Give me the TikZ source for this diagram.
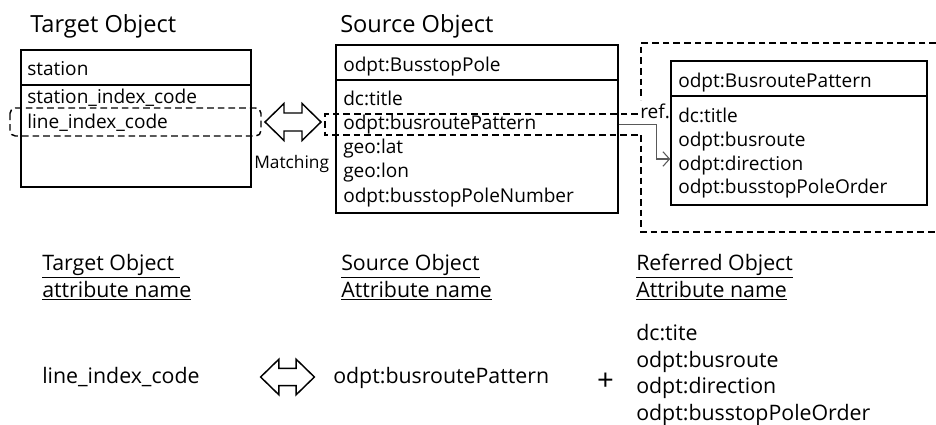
\documentclass[tikz,border=0pt]{standalone}
\usepackage{fontspec}
\setmainfont{Open Sans}
\usetikzlibrary{arrows.meta,fit}

\tikzset{
  objbox/.style={draw, line width=1.1pt, inner sep=0pt},
  title/.style={anchor=base west, inner sep=0pt, font=\fontsize{17.7}{21}\selectfont},
  attr/.style={anchor=base west, inner sep=0pt, font=\fontsize{14.3}{17}\selectfont},
  legend/.style={anchor=base west, inner sep=0pt, font=\fontsize{16}{20}\selectfont},
  dashbox/.style={line width=1.1pt, dash pattern=on 5pt off 3pt},
  refline/.style={draw=black!65, line width=0.8pt, -{Straight Barb[length=5pt,width=11pt]}},
  matcharrow/.pic={
    \draw[line width=1.1pt, line join=miter]
      (-28,0) -- (-9,-18.5) -- (-9,-9) -- (9,-9) -- (9,-18.5) -- (28,0)
      -- (9,18.5) -- (9,9) -- (-9,9) -- (-9,18.5) -- cycle;
  }
}

\begin{document}
\begin{tikzpicture}[x=0.75pt, y=-0.75pt]
    \useasboundingbox (0,0) rectangle (936,425);

    % Target object
    \node[title] (tgttitle) at (30,32) {Target Object};
    \node[objbox, fit={(21,50) (251,187)}] (tgt) {};
    \draw[line width=1.1pt] (21,85) -- (251,85);
    \node[attr] (tgthead) at (27,75) {station};
    \node[attr] (tgtstation) at (27,103) {station\_index\_code};
    \node[attr] (tgtline) at (27,128) {line\_index\_code};
    \draw[dashbox, rounded corners=4pt] (10,108) rectangle (261,136);

    % Matching arrow
    \pic at (293,122) {matcharrow};
    \node[attr, font=\fontsize{13}{16}\selectfont] (match) at (254,168) {Matching};

    % Source object
    \node[title] (srctitle) at (340,32) {Source Object};
    \node[objbox, fit={(336,45) (618,213)}] (src) {};
    \draw[line width=1.1pt] (336,80) -- (618,80);
    \node[attr] (srchead) at (343,71) {odpt:BusstopPole};
    \node[attr] (srctitleattr) at (343,105) {dc:title};
    \node[attr] (srcpat) at (343,129) {odpt:busroutePattern};
    \node[attr] (srclat) at (343,153) {geo:lat};
    \node[attr] (srclon) at (343,177) {geo:lon};
    \node[attr] (srcnum) at (343,202) {odpt:busstopPoleNumber};
    \draw[dashbox] (638,114) -- (325,114) -- (325,135) -- (641,135);

    % Referred object, dashed area runs off to the right
    \draw[dashbox] (936,43) -- (641,43) -- (641,100);
    \draw[dashbox] (641,135) -- (641,232) -- (936,232);
    \node[attr] (reflabel) at (640,118) {ref.};
    \node[objbox, fit={(671,61) (927,205)}] (rfd) {};
    \draw[line width=1.1pt] (671,96) -- (927,96);
    \node[attr] (rfdhead) at (678,87) {odpt:BusroutePattern};
    \node[attr] (rfdtitle) at (678,122) {dc:title};
    \node[attr] (rfdroute) at (678,146) {odpt:busroute};
    \node[attr] (rfddir) at (678,170) {odpt:direction};
    \node[attr] (rfdorder) at (678,193) {odpt:busstopPoleOrder};
    \coordinate (rfdin) at (rfd.west |- 0,159);
    \draw[refline] (src.east |- srcpat) -- ++(38,0) |- (rfdin);

    % Attribute name legend
    \node[legend] (lgtgt) at (42,270) {\underline{Target Object\ }};
    \node[legend] (lgtgt2) at (42,297) {\underline{attribute name}};
    \node[legend] (lgsrc) at (341,270) {\underline{Source Object}};
    \node[legend] (lgsrc2) at (341,297) {\underline{Attribute name}};
    \node[legend] (lgrfd) at (636,270) {\underline{Referred Object}};
    \node[legend] (lgrfd2) at (636,297) {\underline{Attribute name}};

    \node[legend] (extgt) at (42,383) {line\_index\_code};
    \pic[scale=0.96] at (287.5,377) {matcharrow};
    \node[legend] (exsrc) at (333,383) {odpt:busroutePattern};
    \node[legend, anchor=center, font=\fontsize{22}{24}\selectfont] (plus) at (605.5,382) {+};
    \node[legend] (ex1) at (636,340) {dc:tite};
    \node[legend] (ex2) at (636,367) {odpt:busroute};
    \node[legend] (ex3) at (636,393) {odpt:direction};
    \node[legend] (ex4) at (636,420) {odpt:busstopPoleOrder};
\end{tikzpicture}
\end{document}
